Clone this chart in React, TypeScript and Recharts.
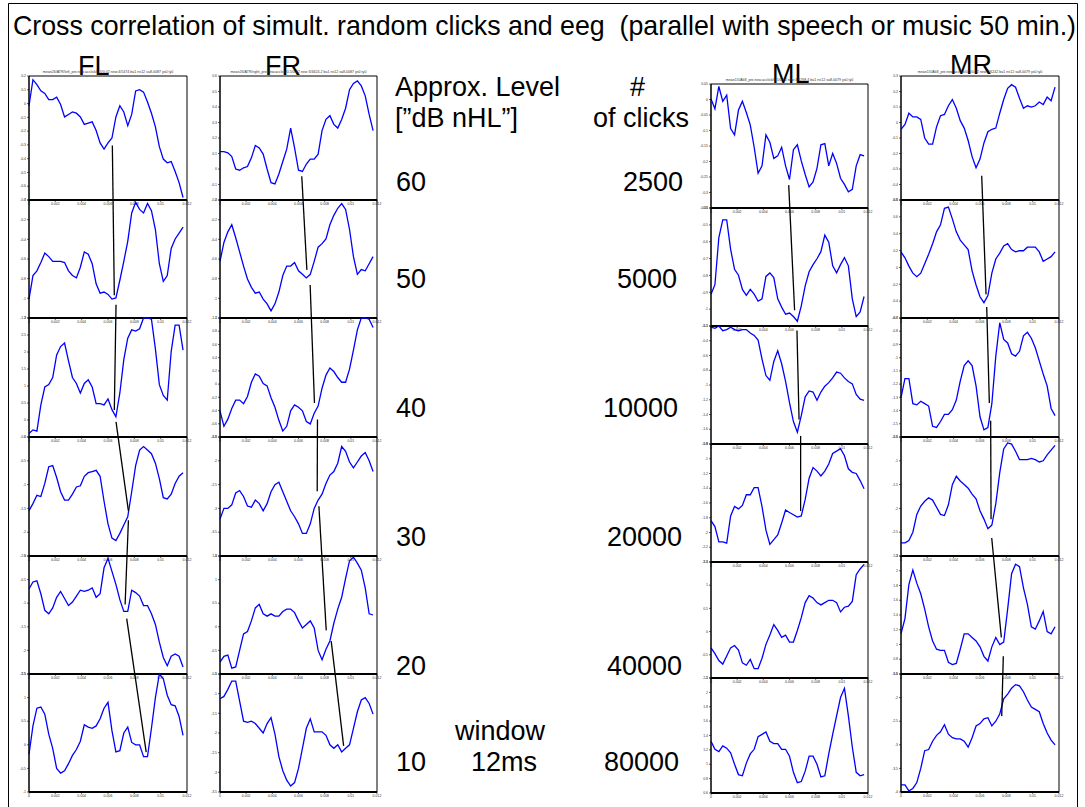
import React from 'react';
import { LineChart, Line, XAxis, YAxis, ReferenceArea } from 'recharts';

// ---- data ----
const T = [0, 0.0003, 0.0006, 0.0009, 0.0012, 0.0015, 0.0018, 0.0021, 0.0024, 0.0027, 0.003, 0.0033, 0.0036, 0.0039, 0.0042, 0.0045, 0.0048, 0.0051, 0.0054, 0.0057, 0.006, 0.0063, 0.0066, 0.0069, 0.0072, 0.0075, 0.0078, 0.0081, 0.0084, 0.0087, 0.009, 0.0093, 0.0096, 0.0099, 0.0102, 0.0105, 0.0108, 0.0111, 0.0114, 0.0117];
const X_TICKS = [0, 0.002, 0.004, 0.006, 0.008, 0.01, 0.012];
const X_TICK_LABELS = ['0', '0.002', '0.004', '0.006', '0.008', '0.01', '0.012'];

// values: position of the waveform inside its panel, percent of panel height
const FL1 = [76,97,93,88,86,81,81,83,77,67,69,71,70,67,61,62,63,56,46,41,46,50,67,76,71,60,69,88,89,87,79,70,59,43,33,30,31,23,14,2];
const FL2 = [16,36,40,47,55,52,48,48,48,47,40,36,34,43,56,54,46,29,21,22,20,16,17,32,48,65,89,98,92,89,97,91,75,46,31,36,59,67,72,77];
const FL3 = [3,6,5,27,42,44,50,69,76,79,64,50,45,37,45,48,42,28,28,27,32,23,17,37,65,83,90,89,91,100,100,99,74,44,35,31,72,94,94,73];
const FL4 = [38,44,51,50,61,75,76,66,54,47,47,52,58,59,67,70,71,72,67,46,27,15,13,19,26,33,54,76,89,92,89,86,78,65,49,48,52,61,67,70];
const FL5 = [72,78,79,68,54,51,56,65,70,64,58,61,66,71,70,71,73,65,68,90,98,87,76,63,53,53,71,69,66,58,58,51,42,27,14,7,15,17,15,6];
const FL6 = [32,56,71,72,66,49,37,20,16,18,24,31,36,43,57,55,54,56,62,71,76,52,34,35,50,55,42,40,40,30,30,54,80,100,96,82,74,73,64,48];

const FR1 = [39,39,38,35,25,24,26,27,34,44,42,37,25,14,13,21,31,41,58,42,24,23,29,33,33,37,56,65,68,61,58,65,74,89,94,96,92,84,69,56];
const FR2 = [48,64,73,79,68,56,44,33,26,21,22,16,12,6,12,22,36,44,44,47,40,37,34,37,48,60,63,67,79,87,93,97,92,75,52,37,41,40,46,52];
const FR3 = [22,9,15,24,31,31,28,34,46,53,51,45,43,33,25,14,5,9,22,27,25,22,13,11,20,26,41,52,58,55,50,46,46,57,73,90,100,100,99,92];
const FR4 = [31,40,40,43,53,55,50,42,41,47,44,38,44,54,60,62,54,46,38,33,27,19,19,27,40,47,52,61,68,71,78,92,88,79,74,79,84,87,80,71];
const FR5 = [10,15,16,5,6,20,34,36,45,56,59,51,49,51,49,49,53,55,55,52,45,39,42,45,39,20,12,21,28,43,55,65,81,96,99,94,88,73,51,50];
const FR6 = [79,81,87,94,94,77,60,59,60,58,54,50,58,63,49,30,18,10,5,8,20,37,54,62,51,51,51,48,40,37,40,34,37,40,54,68,78,80,75,66];

const ML1 = [88,80,98,86,91,64,59,79,86,77,67,49,28,34,59,53,40,42,49,34,23,47,51,38,27,17,21,32,51,52,34,44,36,24,19,13,15,34,43,42];
const ML2 = [27,35,75,90,90,65,48,43,31,26,31,27,21,23,42,45,41,23,16,10,11,8,4,17,34,46,52,57,63,77,71,51,45,52,58,51,23,8,12,25];
const ML3 = [99,98,100,96,97,99,97,96,97,97,94,92,88,72,58,54,70,79,68,53,35,19,10,24,40,45,44,37,44,49,52,56,61,60,56,53,51,42,38,37];
const ML4 = [35,30,17,17,16,39,47,45,48,57,57,63,63,47,27,15,19,23,33,44,42,40,38,39,53,71,80,77,73,77,83,92,94,96,90,79,76,75,69,62];
const ML5 = [26,21,15,12,19,26,28,24,13,11,16,8,8,17,29,37,46,41,35,37,31,31,41,52,65,71,69,65,63,65,67,67,65,57,61,62,66,89,94,98];
const ML6 = [45,38,36,41,39,35,25,16,15,26,34,38,49,51,53,45,43,43,38,38,32,18,9,10,19,32,32,25,14,15,34,51,67,83,91,67,40,18,15,16];

const MR1 = [57,61,70,67,67,65,50,45,45,59,68,69,76,81,74,64,58,48,35,26,33,46,55,57,58,70,81,90,93,91,82,74,76,75,76,79,77,83,80,91];
const MR2 = [56,51,44,38,35,38,46,54,63,73,79,93,94,84,73,66,62,58,40,28,18,13,19,38,50,55,61,63,58,56,57,57,60,60,60,56,48,50,52,56];
const MR3 = [33,49,49,28,27,30,28,26,9,8,13,19,19,23,31,47,60,64,60,43,17,6,8,28,68,96,82,79,70,68,72,85,88,83,75,64,53,43,24,18];
const MR4 = [11,11,13,20,35,42,46,49,47,41,35,34,43,60,67,63,60,57,52,48,38,31,23,26,44,70,90,95,94,88,81,81,81,82,81,79,80,85,89,93];
const MR5 = [34,47,76,88,77,68,55,40,28,21,20,20,10,8,9,21,34,34,31,28,23,15,11,23,31,25,27,55,85,93,91,73,59,40,38,45,53,36,34,40];
const MR6 = [6,6,1,3,8,20,35,36,43,48,51,57,49,46,45,45,43,38,46,56,58,62,63,56,60,66,79,83,88,91,90,85,78,72,70,68,58,50,44,40];

// y tick labels per panel: [top label, step, count]
const FL_YT = [[0.2, 0.1, 10], [0, 0.2, 7], [3, 0.5, 8], [0, 0.5, 6], [0, 0.5, 6], [1.5, 0.5, 6]];
const FR_YT = [[0.6, 0.1, 9], [0, 0.2, 7], [1, 0.2, 10], [-1.5, 0.5, 6], [1.5, 0.5, 6], [-0.5, 0.5, 7]];
const ML_YT = [[0.05, 0.05, 9], [-0.4, 0.1, 8], [-0.2, 0.2, 9], [-0.8, 0.2, 9], [1.5, 0.5, 6], [2.2, 0.2, 9]];
const MR_YT = [[0.3, 0.1, 9], [0.8, 0.2, 8], [-0.7, 0.1, 10], [-0.5, 0.5, 6], [2.2, 0.2, 9], [-1.5, 0.5, 6]];

// latency tracks: [t1, depth1, t2, depth2]; depth in units of a panel height from the column top
const FL_LAT = [[0.00633, 0.587, 0.00648, 1.854], [0.00661, 1.933, 0.00648, 2.824], [0.00661, 2.923, 0.00755, 3.676], [0.00755, 3.755, 0.0073, 4.468], [0.00742, 4.587, 0.0089, 5.716]];
const FR_LAT = [[0.00625, 0.847, 0.00664, 1.639], [0.00689, 1.767, 0.00722, 2.765], [0.00745, 2.904, 0.00743, 3.51], [0.00756, 3.637, 0.00812, 4.686], [0.0085, 4.777, 0.00945, 5.663]];
const ML_LAT = [[0.00594, 0.855, 0.00639, 1.913], [0.00657, 2.083, 0.00673, 2.836], [0.00685, 2.975, 0.00685, 3.61]];
const MR_LAT = [[0.00613, 0.844, 0.00646, 1.846], [0.00651, 1.953, 0.00671, 2.765], [0.00681, 2.915, 0.00684, 3.747], [0.00689, 3.905, 0.00762, 4.745], [0.00777, 4.904, 0.00765, 5.411]];

const COLUMN_NAMES = ['FL', 'FR', 'ML', 'MR'];
const SUBTITLES = [
  'mean26/ATR/left_pre.new.acclick/0.5/0.02 new:4/5474 ba1 ns12 sa8.0087 ys0 ty0',
  'mean26/ATR/right_pre.new.acclick/0.5/0.02 new:3/4624.2 ba1 ns12 sa8.0087 ys0 ty0',
  'mean1/UAk8_pre.new.acclick/0.5/0.02 new:3/6268.4 ba1 ns12 sa8.0079 ys0 ty0',
  'mean1/UAk8_pre.new.acclick/0.5/0.02 new:2/6242 ba1 ns12 sa8.0079 ys0 ty0',
];
const LEVELS = ['60', '50', '40', '30', '20', '10'];
const CLICKS = ['2500', '5000', '10000', '20000', '40000', '80000'];
const TITLE = 'Cross correlation of simult. random clicks and eeg  (parallel with speech or music 50 min.)';

const SERIES = [[FL1, FL2, FL3, FL4, FL5, FL6], [FR1, FR2, FR3, FR4, FR5, FR6], [ML1, ML2, ML3, ML4, ML5, ML6], [MR1, MR2, MR3, MR4, MR5, MR6]];
const YTS = [FL_YT, FR_YT, ML_YT, MR_YT];
const LATS = [FL_LAT, FR_LAT, ML_LAT, MR_LAT];

// ---- layout ----
const LAYOUT = [
  { left: 29, width: 158, b: [76, 200, 318, 437, 556, 674, 792], head: [78, 75] },
  { left: 220, width: 157, b: [76, 200, 318, 437, 556, 674, 792], head: [265, 75] },
  { left: 711, width: 157, b: [84, 208, 326, 444, 562, 678, 793], head: [772, 83] },
  { left: 901, width: 158, b: [76, 200, 318, 437, 556, 674, 792], head: [950, 74] },
];
const UNIT = 118.3;
const YW = 20;
const RM = 9;
const TM = 4;
const XH = 9;
const FONT = '"Liberation Sans", Arial, Helvetica, sans-serif';
const LEVEL_X = 396;
const CLICK_X = [623, 617, 603, 607, 607, 604];
const ROW_BASE = [191, 288, 417, 546, 675, 771];

function Panel({ left, top, width, height, values, yt }: any) {
  const data = T.map((t, i) => ({ t, v: values[i] }));
  const n = yt[2];
  const ticks = Array.from({ length: n }, (_, k) => 100 - (k * 100) / (n - 1));
  const fmt = (v: number) => {
    const k = Math.round(((100 - v) * (n - 1)) / 100);
    return String(+(yt[0] - k * yt[1]).toFixed(3));
  };
  const W = YW + width + RM;
  const H = TM + height + XH;
  const tickStyle = { fontSize: 3.5, fill: '#333', fontFamily: FONT };
  return (
    <div style={{ position: 'absolute', left: left - YW, top: top - TM, width: W, height: H }}>
      <LineChart width={W} height={H} data={data} margin={{ top: TM, right: RM, bottom: 0, left: 0 }}>
        <XAxis
          dataKey="t"
          type="number"
          domain={[0, 0.012]}
          ticks={X_TICKS}
          interval={0}
          tickFormatter={(v: number) => X_TICK_LABELS[X_TICKS.indexOf(v)] ?? ''}
          height={XH}
          tick={tickStyle}
          tickSize={2}
          tickMargin={0.5}
          axisLine={{ stroke: '#000', strokeWidth: 2 }}
          tickLine={{ stroke: '#000', strokeWidth: 0.6 }}
        />
        <XAxis
          xAxisId="top"
          orientation="top"
          mirror
          dataKey="t"
          type="number"
          domain={[0, 0.012]}
          ticks={X_TICKS}
          interval={0}
          tickFormatter={() => ''}
          height={0}
          tickSize={2}
          axisLine={false}
          tickLine={{ stroke: '#000', strokeWidth: 0.6 }}
        />
        <YAxis
          type="number"
          domain={[0, 100]}
          ticks={ticks}
          interval={0}
          tickFormatter={fmt}
          width={YW}
          tick={tickStyle}
          tickSize={2}
          tickMargin={1}
          axisLine={{ stroke: '#000', strokeWidth: 1 }}
          tickLine={{ stroke: '#000', strokeWidth: 0.6 }}
        />
        <YAxis
          yAxisId="r"
          orientation="right"
          mirror
          type="number"
          domain={[0, 100]}
          ticks={ticks}
          interval={0}
          tickFormatter={() => ''}
          width={0}
          tickSize={2}
          axisLine={false}
          tickLine={{ stroke: '#000', strokeWidth: 0.6 }}
        />
        <ReferenceArea x1={0} x2={0.012} y1={0} y2={100} fill="none" stroke="#000" strokeWidth={1} ifOverflow="visible" />
        <Line dataKey="v" type="linear" stroke="#0000ff" strokeWidth={1.3} dot={false} isAnimationActive={false} />
      </LineChart>
    </div>
  );
}

function Overlay({ left, top, width, height, lat }: any) {
  return (
    <div style={{ position: 'absolute', left, top, width, height }}>
      <LineChart width={width} height={height} margin={{ top: 0, right: 0, bottom: 0, left: 0 }}>
        <XAxis dataKey="t" type="number" domain={[0, 0.012]} hide height={0} />
        <YAxis dataKey="d" type="number" domain={[0, height / UNIT]} reversed hide width={0} />
        {lat.map((s: number[], i: number) => (
          <Line
            key={i}
            data={[{ t: s[0], d: s[1] }, { t: s[2], d: s[3] }]}
            dataKey="d"
            type="linear"
            stroke="#000"
            strokeWidth={1.3}
            dot={false}
            isAnimationActive={false}
          />
        ))}
      </LineChart>
    </div>
  );
}

export default function App() {
  return (
    <div style={{ position: 'absolute', left: 0, top: 0, width: 1085, height: 807, overflow: 'hidden', background: '#fff' }}>
      <svg width={1085} height={807} style={{ position: 'absolute', left: 0, top: 0 }}>
        <path d="M8.5 810 L8.5 3.5 L1077.5 3.5 L1077.5 810" fill="none" stroke="#000" strokeWidth={1} />
        <text x={13} y={35} fontSize={26.75} fontFamily={FONT} fill="#000" xmlSpace="preserve" style={{ whiteSpace: 'pre' }}>{TITLE}</text>
        {COLUMN_NAMES.map((nm, c) => (
          <text key={nm} x={LAYOUT[c].head[0]} y={LAYOUT[c].head[1]} fontSize={27} fontFamily={FONT} fill="#000">{nm}</text>
        ))}
        <text x={395} y={96} fontSize={27} fontFamily={FONT}>Approx. Level</text>
        <text x={395} y={127} fontSize={27} fontFamily={FONT}>[”dB nHL”]</text>
        <text x={630} y={96} fontSize={27} fontFamily={FONT}>#</text>
        <text x={593} y={127} fontSize={27} fontFamily={FONT}>of clicks</text>
        {LEVELS.map((l, i) => (
          <text key={'l' + i} x={LEVEL_X} y={ROW_BASE[i]} fontSize={27} fontFamily={FONT}>{l}</text>
        ))}
        {CLICKS.map((l, i) => (
          <text key={'c' + i} x={CLICK_X[i]} y={ROW_BASE[i]} fontSize={27} fontFamily={FONT}>{l}</text>
        ))}
        <text x={500} y={740} fontSize={27} fontFamily={FONT} textAnchor="middle">window</text>
        <text x={504} y={771} fontSize={27} fontFamily={FONT} textAnchor="middle">12ms</text>
      </svg>
      {LAYOUT.map((L, c) =>
        SERIES[c].map((vals, p) => (
          <Panel
            key={c + '-' + p}
            left={L.left}
            top={L.b[p]}
            width={L.width}
            height={L.b[p + 1] - L.b[p]}
            values={vals}
            yt={YTS[c][p]}
          />
        ))
      )}
      <svg width={1085} height={807} style={{ position: 'absolute', left: 0, top: 0, pointerEvents: 'none' }}>
        {LAYOUT.map((L, c) => (
          <text key={'s' + c} x={L.left + L.width / 2} y={L.b[0] - 3} fontSize={3.6} fontFamily={FONT} fill="#333" textAnchor="middle">{SUBTITLES[c]}</text>
        ))}
      </svg>
      {LAYOUT.map((L, c) => (
        <Overlay key={'o' + c} left={L.left} top={L.b[0]} width={L.width} height={L.b[6] - L.b[0]} lat={LATS[c]} />
      ))}
    </div>
  );
}
